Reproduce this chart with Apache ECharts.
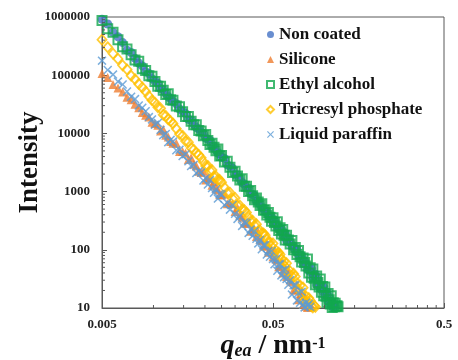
<!DOCTYPE html>
<html>
<head>
<meta charset="utf-8">
<script src="https://cdn.jsdelivr.net/npm/echarts@6.0.0/dist/echarts.min.js"></script>
<style>
  html, body { margin: 0; padding: 0; background: #fff; }
  #chart { width: 458px; height: 360px; }
</style>
</head>
<body>
<div id="chart"></div>
<script>
// x axis runs on q / Q0, so the log ticks land on 0.005, 0.05, 0.5
var Q0 = 0.005;

var qValues = [
  0.0050, 0.0054, 0.0058, 0.0062, 0.0066, 0.0070, 0.0074, 0.0078, 0.0082, 0.0086,
  0.0090, 0.0094, 0.0098, 0.0102, 0.0106, 0.0110, 0.0114, 0.0118, 0.0122, 0.0126,
  0.0130, 0.0136, 0.0142, 0.0148, 0.0154, 0.0160, 0.0166, 0.0172, 0.0178, 0.0184,
  0.0190, 0.0196, 0.0202, 0.0208, 0.0214, 0.0220, 0.0226, 0.0232, 0.0238, 0.0244,
  0.0250, 0.0260, 0.0270, 0.0280, 0.0290, 0.0300, 0.0310, 0.0320, 0.0330, 0.0340,
  0.0350, 0.0360, 0.0370, 0.0380, 0.0390, 0.0400, 0.0410, 0.0420, 0.0430, 0.0440,
  0.0450, 0.0460, 0.0470, 0.0480, 0.0490, 0.0500, 0.0510, 0.0520, 0.0530, 0.0540,
  0.0550, 0.0560, 0.0570, 0.0580, 0.0590,
  0.0600, 0.0615, 0.0630, 0.0645, 0.0660, 0.0675, 0.0690, 0.0705, 0.0720, 0.0735,
  0.0750, 0.0765, 0.0780, 0.0795, 0.0810, 0.0825, 0.0840, 0.0855, 0.0870, 0.0885,
  0.0900, 0.0915, 0.0930, 0.0945, 0.0960, 0.0975, 0.0990, 0.1005, 0.1020, 0.1035,
  0.1050, 0.1065, 0.1080, 0.1095, 0.1110, 0.1125, 0.1140, 0.1155, 0.1170, 0.1185,
  0.1200, 0.1215, 0.1230, 0.1245, 0.1260, 0.1275, 0.1290, 0.1305, 0.1320, 0.1335
];

// intensities, stored as log10(I), one per q above
var logNonCoated = [
  5.96, 5.88, 5.74, 5.66, 5.56, 5.43, 5.39, 5.29, 5.21, 5.16,
  5.06, 5.03, 4.94, 4.90, 4.86, 4.77, 4.75, 4.69, 4.63, 4.60,
  4.55, 4.51, 4.42, 4.38, 4.34, 4.24, 4.23, 4.16, 4.10, 4.08,
  4.02, 4.00, 3.92, 3.90, 3.88, 3.77, 3.78, 3.72, 3.66, 3.65,
  3.59, 3.57, 3.46, 3.44, 3.40, 3.29, 3.29, 3.22, 3.15, 3.13,
  3.06, 3.06, 2.96, 2.95, 2.93, 2.83, 2.84, 2.78, 2.72, 2.72,
  2.66, 2.66, 2.58, 2.58, 2.56, 2.46, 2.50, 2.44, 2.38, 2.39,
  2.33, 2.36, 2.26, 2.28, 2.28, 2.16, 2.20, 2.13, 2.06, 2.06,
  1.99, 2.01, 1.90, 1.91, 1.90, 1.77, 1.81, 1.75, 1.66, 1.70,
  1.62, 1.68, 1.52, 1.56, 1.58, 1.40, 1.49, 1.41, 1.33, 1.37,
  1.29, 1.36, 1.21, 1.25, 1.27, 1.10, 1.19, 1.12, 1.04, 1.09,
  1.01, 1.08, 1.02
];

var logSilicone = [
  5.03, 4.96, 4.84, 4.78, 4.71, 4.62, 4.58, 4.50, 4.44, 4.36,
  4.31, 4.28, 4.19, 4.17, 4.14, 4.04, 4.07, 3.97, 3.94, 3.86,
  3.83, 3.83, 3.69, 3.69, 3.66, 3.55, 3.58, 3.47, 3.44, 3.35,
  3.33, 3.35, 3.20, 3.24, 3.23, 3.11, 3.17, 3.06, 3.03, 2.95,
  2.94, 2.96, 2.79, 2.81, 2.79, 2.66, 2.72, 2.60, 2.56, 2.46,
  2.45, 2.48, 2.32, 2.36, 2.35, 2.23, 2.30, 2.18, 2.16, 2.07,
  2.06, 2.11, 1.96, 2.01, 2.00, 1.88, 1.98, 1.84, 1.82, 1.71,
  1.72, 1.79, 1.60, 1.67, 1.68, 1.54, 1.63, 1.48, 1.45, 1.31,
  1.31, 1.40, 1.14, 1.24, 1.25, 1.06, 1.21, 1.03, 1.01, 1.04,
  1.06, 1.02
];

var logEthylAlcohol = [
  5.94, 5.80, 5.74, 5.61, 5.49, 5.45, 5.35, 5.26, 5.24, 5.11,
  5.08, 4.99, 4.98, 4.89, 4.81, 4.81, 4.74, 4.67, 4.68, 4.58,
  4.57, 4.47, 4.46, 4.37, 4.29, 4.29, 4.21, 4.15, 4.15, 4.05,
  4.04, 3.96, 3.98, 3.88, 3.81, 3.83, 3.76, 3.70, 3.73, 3.61,
  3.62, 3.51, 3.52, 3.42, 3.33, 3.35, 3.27, 3.20, 3.22, 3.09,
  3.09, 3.00, 3.02, 2.93, 2.86, 2.89, 2.82, 2.76, 2.79, 2.68,
  2.69, 2.60, 2.64, 2.56, 2.49, 2.55, 2.47, 2.41, 2.48, 2.33,
  2.38, 2.27, 2.35, 2.25, 2.17, 2.25, 2.17, 2.10, 2.16, 2.00,
  2.04, 1.92, 1.99, 1.88, 1.79, 1.86, 1.78, 1.72, 1.84, 1.60,
  1.69, 1.53, 1.67, 1.51, 1.40, 1.55, 1.44, 1.36, 1.50, 1.27,
  1.37, 1.21, 1.36, 1.20, 1.10, 1.25, 1.14, 1.07, 1.21, 1.01,
  1.09, 1.02, 1.08, 1.03, 1.04, 1.02
];

var logTricresylPhosphate = [
  5.61, 5.48, 5.37, 5.28, 5.17, 5.10, 4.99, 4.93, 4.85, 4.79,
  4.72, 4.64, 4.57, 4.53, 4.45, 4.43, 4.32, 4.30, 4.24, 4.21,
  4.17, 4.08, 3.99, 3.96, 3.87, 3.85, 3.75, 3.72, 3.66, 3.63,
  3.58, 3.51, 3.44, 3.44, 3.36, 3.37, 3.25, 3.26, 3.20, 3.20,
  3.16, 3.07, 2.98, 2.98, 2.88, 2.89, 2.76, 2.76, 2.69, 2.68,
  2.64, 2.56, 2.49, 2.50, 2.42, 2.44, 2.32, 2.33, 2.28, 2.28,
  2.25, 2.18, 2.12, 2.13, 2.06, 2.11, 1.95, 1.99, 1.93, 1.95,
  1.92, 1.84, 1.76, 1.80, 1.71, 1.77, 1.60, 1.63, 1.55, 1.59,
  1.54, 1.43, 1.32, 1.39, 1.26, 1.35, 1.13, 1.20, 1.12, 1.17,
  1.13, 1.03, 1.01, 1.04, 1.02
];

var logLiquidParaffin = [
  5.25, 5.09, 5.01, 4.89, 4.84, 4.72, 4.63, 4.59, 4.48, 4.44,
  4.38, 4.28, 4.24, 4.15, 4.18, 4.06, 3.97, 3.99, 3.85, 3.89,
  3.86, 3.71, 3.72, 3.61, 3.64, 3.52, 3.44, 3.46, 3.32, 3.35,
  3.33, 3.19, 3.23, 3.12, 3.20, 3.06, 2.98, 3.04, 2.88, 2.96,
  2.95, 2.77, 2.81, 2.69, 2.77, 2.62, 2.53, 2.58, 2.41, 2.47,
  2.46, 2.29, 2.35, 2.24, 2.32, 2.19, 2.11, 2.17, 2.01, 2.08,
  2.08, 1.92, 1.98, 1.88, 1.98, 1.84, 1.75, 1.84, 1.64, 1.75,
  1.75, 1.56, 1.65, 1.53, 1.66, 1.50, 1.40, 1.48, 1.23, 1.39,
  1.39, 1.13, 1.26, 1.09, 1.28, 1.06, 1.01, 1.09, 1.04, 1.07,
  1.02
];

var xMinorTicks = [0.01, 0.015, 0.02, 0.025, 0.03, 0.035, 0.04, 0.045,
  0.1, 0.15, 0.2, 0.25, 0.3, 0.35, 0.4, 0.45];
var yDecades = [10, 100, 1000, 10000, 100000];
var yMinorTicks = [];
yDecades.forEach(function (d) {
  for (var k = 2; k <= 9; k++) yMinorTicks.push(d * k);
});

var AXIS = '#595959';
var SERIF = '"Liberation Serif", "DejaVu Serif", serif';
var crossPath = 'path://M0,1.2L1.2,0L5,3.8L8.8,0L10,1.2L6.2,5L10,8.8L8.8,10L5,6.2L1.2,10L0,8.8L3.8,5Z';

function toPoints(logs) {
  return logs.map(function (v, i) { return [qValues[i] / Q0, Math.pow(10, v)]; });
}

function scatter(name, logs, symbol, size, style) {
  return {
    name: name,
    type: 'scatter',
    data: toPoints(logs),
    symbol: symbol,
    symbolSize: size,
    itemStyle: style,
    emphasis: { disabled: true }
  };
}

function tickSeries(data, dx, dy) {
  return {
    type: 'custom',
    silent: true,
    clip: false,
    z: 5,
    data: data,
    renderItem: function (params, api) {
      var p = api.coord([api.value(0), api.value(1)]);
      return {
        type: 'line',
        shape: { x1: p[0], y1: p[1], x2: p[0] + dx, y2: p[1] + dy },
        style: { stroke: AXIS, lineWidth: 1 }
      };
    }
  };
}

var chart = echarts.init(document.getElementById('chart'));

chart.setOption({
  animation: false,
  grid: {
    left: 102, right: 14, top: 17, bottom: 52,
    outerBoundsMode: 'none',
    show: true, borderColor: AXIS, borderWidth: 1
  },
  legend: {
    orient: 'vertical',
    left: 261,
    top: 21,
    itemWidth: 7,
    itemHeight: 7,
    itemGap: 8,
    data: ['Non coated', 'Silicone', 'Ethyl alcohol', 'Tricresyl phosphate', 'Liquid paraffin'],
    textStyle: { fontFamily: SERIF, fontWeight: 'bold', fontSize: 17, color: '#111' }
  },
  xAxis: {
    type: 'log',
    min: 1,
    max: 100,
    name: '{q|q}{s|ea}{t| / nm}{p|-1}',
    nameLocation: 'middle',
    nameGap: 22,
    nameMoveOverlap: false,
    nameTextStyle: {
      rich: {
        q: { fontFamily: SERIF, fontWeight: 'bold', fontStyle: 'italic', fontSize: 28, lineHeight: 30, verticalAlign: 'bottom', color: '#111' },
        s: { fontFamily: SERIF, fontWeight: 'bold', fontStyle: 'italic', fontSize: 18, lineHeight: 18, verticalAlign: 'bottom', color: '#111' },
        t: { fontFamily: SERIF, fontWeight: 'bold', fontSize: 28, lineHeight: 30, verticalAlign: 'bottom', color: '#111' },
        p: { fontFamily: SERIF, fontWeight: 'bold', fontSize: 16, lineHeight: 16, verticalAlign: 'top', padding: [6, 0, 0, 0], color: '#111' }
      }
    },
    axisLine: { lineStyle: { color: AXIS } },
    axisTick: { inside: true, length: 5, lineStyle: { color: AXIS } },
    axisLabel: {
      margin: 10,
      fontFamily: SERIF, fontWeight: 'bold', fontSize: 13, color: '#222',
      formatter: function (v) { return String(+(v * Q0).toPrecision(4)); }
    },
    splitLine: { show: false }
  },
  yAxis: {
    type: 'log',
    min: 10,
    max: 1000000,
    name: 'Intensity',
    nameLocation: 'middle',
    nameGap: 58,
    nameMoveOverlap: false,
    nameTextStyle: { fontFamily: SERIF, fontWeight: 'bold', fontSize: 27, color: '#111' },
    axisLine: { show: true, lineStyle: { color: AXIS } },
    axisTick: { inside: true, length: 5, lineStyle: { color: AXIS } },
    axisLabel: {
      margin: 12,
      fontFamily: SERIF, fontWeight: 'bold', fontSize: 13, color: '#222',
      formatter: function (v) { return String(Math.round(v)); }
    },
    splitLine: { show: false }
  },
  series: [
    scatter('Non coated', logNonCoated, 'circle', 9, { color: '#4472C4' }),
    scatter('Silicone', logSilicone, 'triangle', 9, { color: '#ED7D31' }),
    scatter('Ethyl alcohol', logEthylAlcohol, 'rect', 9,
      { color: 'rgba(255,255,255,0)', borderColor: '#12A84E', borderWidth: 2 }),
    scatter('Tricresyl phosphate', logTricresylPhosphate, 'diamond', [9, 10],
      { color: 'rgba(255,255,255,0)', borderColor: '#FFC000', borderWidth: 1.8 }),
    scatter('Liquid paraffin', logLiquidParaffin, crossPath, 9, { color: '#5B9BD5' }),
    tickSeries(xMinorTicks.map(function (q) { return [q / Q0, 10]; }), 0, -3),
    tickSeries(yMinorTicks.map(function (v) { return [1, v]; }), 3, 0)
  ]
});
</script>
</body>
</html>
